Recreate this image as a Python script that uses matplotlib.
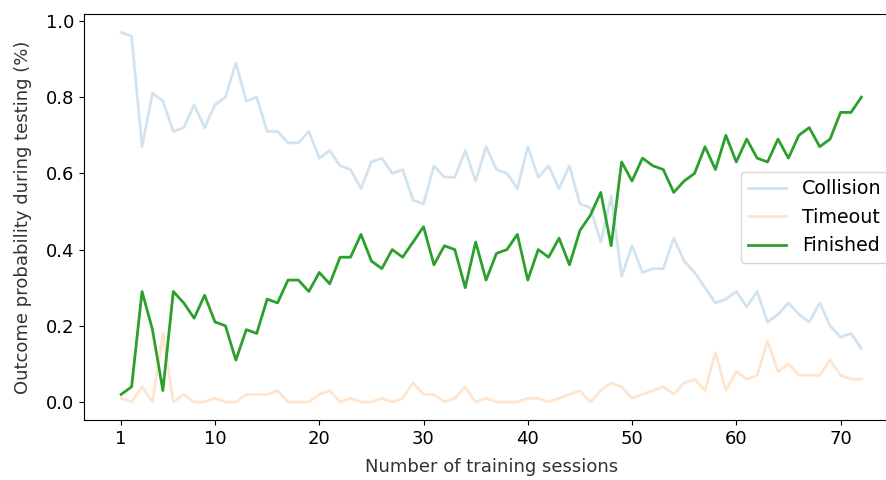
import matplotlib
matplotlib.use("Agg")
from matplotlib import pyplot as plt

sessions = list(range(1, 73))

collision = [0.97, 0.96, 0.67, 0.81, 0.79, 0.71, 0.72, 0.78, 0.72, 0.78,
             0.80, 0.89, 0.79, 0.80, 0.71, 0.71, 0.68, 0.68, 0.71, 0.64,
             0.66, 0.62, 0.61, 0.56, 0.63, 0.64, 0.60, 0.61, 0.53, 0.52,
             0.62, 0.59, 0.59, 0.66, 0.58, 0.67, 0.61, 0.60, 0.56, 0.67,
             0.59, 0.62, 0.56, 0.62, 0.52, 0.51, 0.42, 0.54, 0.33, 0.41,
             0.34, 0.35, 0.35, 0.43, 0.37, 0.34, 0.30, 0.26, 0.27, 0.29,
             0.25, 0.29, 0.21, 0.23, 0.26, 0.23, 0.21, 0.26, 0.20, 0.17,
             0.18, 0.14]

timeout = [0.01, 0.00, 0.04, 0.00, 0.18, 0.00, 0.02, 0.00, 0.00, 0.01,
           0.00, 0.00, 0.02, 0.02, 0.02, 0.03, 0.00, 0.00, 0.00, 0.02,
           0.03, 0.00, 0.01, 0.00, 0.00, 0.01, 0.00, 0.01, 0.05, 0.02,
           0.02, 0.00, 0.01, 0.04, 0.00, 0.01, 0.00, 0.00, 0.00, 0.01,
           0.01, 0.00, 0.01, 0.02, 0.03, 0.00, 0.03, 0.05, 0.04, 0.01,
           0.02, 0.03, 0.04, 0.02, 0.05, 0.06, 0.03, 0.13, 0.03, 0.08,
           0.06, 0.07, 0.16, 0.08, 0.10, 0.07, 0.07, 0.07, 0.11, 0.07,
           0.06, 0.06]

finished = [0.02, 0.04, 0.29, 0.19, 0.03, 0.29, 0.26, 0.22, 0.28, 0.21,
            0.20, 0.11, 0.19, 0.18, 0.27, 0.26, 0.32, 0.32, 0.29, 0.34,
            0.31, 0.38, 0.38, 0.44, 0.37, 0.35, 0.40, 0.38, 0.42, 0.46,
            0.36, 0.41, 0.40, 0.30, 0.42, 0.32, 0.39, 0.40, 0.44, 0.32,
            0.40, 0.38, 0.43, 0.36, 0.45, 0.49, 0.55, 0.41, 0.63, 0.58,
            0.64, 0.62, 0.61, 0.55, 0.58, 0.60, 0.67, 0.61, 0.70, 0.63,
            0.69, 0.64, 0.63, 0.69, 0.64, 0.70, 0.72, 0.67, 0.69, 0.76,
            0.76, 0.80]

xticks = [1, 10, 20, 30, 40, 50, 60, 70]

fig = plt.figure(figsize=(8.86, 4.8), dpi=100)
ax = fig.add_axes([0.095, 0.124, 0.919, 0.847])

ax.plot(sessions, collision, color="tab:blue", alpha=0.2, lw=2, label="Collision")
ax.plot(sessions, timeout, color="tab:orange", alpha=0.2, lw=2, label="Timeout")
ax.plot(sessions, finished, color="tab:green", lw=2, label="Finished")

ax.set_xticks(xticks)
ax.tick_params(labelsize=13)
ax.set_xlabel("Number of training sessions", fontsize=13, color="#333333", labelpad=7)
ax.set_ylabel("Outcome probability during testing (%)", fontsize=13, color="#333333", labelpad=10)
ax.legend(loc="center right", fontsize=13.7)

fig.savefig("out.png", dpi=100)
